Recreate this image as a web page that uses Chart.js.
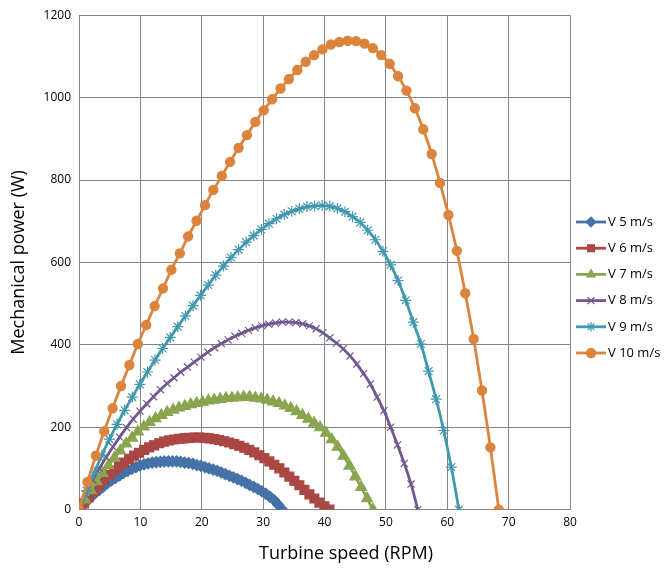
<!DOCTYPE html>
<html>
<head>
    <title>Mechanical power vs turbine speed</title>
    <script src="https://cdn.jsdelivr.net/npm/chart.js"></script>
    <style>
        body { margin: 0; background: #fff; }
        #wrap { width: 665px; height: 572px; }
    </style>
</head>
<body>
    <div id="wrap"><canvas id="powerChart"></canvas></div>

    <script>
        // Series names and colours
        const seriesNames = ['V 5 m/s', 'V 6 m/s', 'V 7 m/s', 'V 8 m/s', 'V 9 m/s', 'V 10 m/s'];
        const seriesColors = ['#4572A7', '#AA4643', '#89A54E', '#71588F', '#4198AF', '#DB843D'];
        const markerStyles = ['rectRot', 'rect', 'triangle', 'crossRot', 'star', 'circle'];
        const markerSizes = [5.5, 6.3, 6.3, 5, 5.5, 4.6];

        // Turbine speed (RPM) of each point
        const speedV5 = [0, 0.66, 1.32, 1.99, 2.65, 3.31, 3.97, 4.63, 5.30, 5.96, 6.62, 7.28, 7.94, 8.61, 9.27, 9.93, 10.59, 11.25, 11.92, 12.58, 13.24, 13.90, 14.56, 15.23, 15.89, 16.55, 17.21, 17.87, 18.54, 19.20, 19.86, 20.52, 21.18, 21.85, 22.51, 23.17, 23.83, 24.49, 25.16, 25.82, 26.48, 27.14, 27.80, 28.47, 29.13, 29.79, 30.45, 31.11, 31.78, 32.44, 33.10];
        const speedV6 = [0, 0.82, 1.63, 2.45, 3.26, 4.08, 4.90, 5.71, 6.53, 7.34, 8.16, 8.98, 9.79, 10.61, 11.42, 12.24, 13.06, 13.87, 14.69, 15.50, 16.32, 17.14, 17.95, 18.77, 19.58, 20.40, 21.22, 22.03, 22.85, 23.66, 24.48, 25.30, 26.11, 26.93, 27.74, 28.56, 29.38, 30.19, 31.01, 31.82, 32.64, 33.46, 34.27, 35.09, 35.90, 36.72, 37.54, 38.35, 39.17, 39.98, 40.80];
        const speedV7 = [0, 0.96, 1.92, 2.87, 3.83, 4.79, 5.75, 6.71, 7.66, 8.62, 9.58, 10.54, 11.50, 12.45, 13.41, 14.37, 15.33, 16.29, 17.24, 18.20, 19.16, 20.12, 21.08, 22.03, 22.99, 23.95, 24.91, 25.87, 26.82, 27.78, 28.74, 29.70, 30.66, 31.61, 32.57, 33.53, 34.49, 35.45, 36.40, 37.36, 38.32, 39.28, 40.24, 41.19, 42.15, 43.11, 44.07, 45.02, 45.98, 46.94, 47.90];
        const speedV8 = [0, 1.10, 2.21, 3.31, 4.42, 5.52, 6.62, 7.73, 8.83, 9.94, 11.04, 12.14, 13.25, 14.35, 15.46, 16.56, 17.66, 18.77, 19.87, 20.98, 22.08, 23.18, 24.29, 25.39, 26.50, 27.60, 28.70, 29.81, 30.91, 32.02, 33.12, 34.22, 35.33, 36.43, 37.54, 38.64, 39.74, 40.85, 41.95, 43.06, 44.16, 45.26, 46.37, 47.47, 48.58, 49.68, 50.78, 51.89, 52.99, 54.10, 55.20];
        const speedV9 = [0, 1.24, 2.48, 3.71, 4.95, 6.19, 7.43, 8.67, 9.90, 11.14, 12.38, 13.62, 14.86, 16.09, 17.33, 18.57, 19.81, 21.05, 22.28, 23.52, 24.76, 26.00, 27.24, 28.47, 29.71, 30.95, 32.19, 33.43, 34.66, 35.90, 37.14, 38.38, 39.62, 40.85, 42.09, 43.33, 44.57, 45.81, 47.04, 48.28, 49.52, 50.76, 51.99, 53.23, 54.47, 55.71, 56.95, 58.19, 59.42, 60.66, 61.90];
        const speedV10 = [0, 1.37, 2.74, 4.10, 5.47, 6.84, 8.21, 9.58, 10.94, 12.31, 13.68, 15.05, 16.42, 17.78, 19.15, 20.52, 21.89, 23.26, 24.62, 25.99, 27.36, 28.73, 30.10, 31.46, 32.83, 34.20, 35.57, 36.94, 38.30, 39.67, 41.04, 42.41, 43.78, 45.14, 46.51, 47.88, 49.25, 50.62, 51.98, 53.35, 54.72, 56.09, 57.46, 58.82, 60.19, 61.56, 62.93, 64.30, 65.66, 67.03, 68.40];

        // Mechanical power (W) at each of those speeds
        const powerV5 = [0, 11, 21, 31, 40, 48, 56, 64, 71, 77, 83, 89, 94, 99, 103, 107, 110, 112, 114, 115, 116, 117, 117, 117, 117, 116, 114, 113, 111, 108, 106, 103, 100, 97, 94, 90, 86, 82, 78, 74, 70, 65, 60, 55, 50, 44, 38, 31, 23, 12, 0];
        const powerV6 = [0, 15, 30, 45, 59, 72, 84, 95, 105, 114, 123, 131, 138, 145, 151, 156, 161, 165, 168, 170, 172, 173, 174, 175, 175, 174, 173, 171, 169, 166, 163, 159, 155, 150, 145, 139, 132, 125, 117, 109, 100, 90, 80, 70, 59, 48, 37, 27, 17, 8, 0];
        const powerV7 = [0, 24, 47, 68, 88, 107, 125, 143, 160, 174, 189, 201, 212, 221, 229, 236, 242, 247, 251, 255, 258, 261, 264, 266, 268, 270, 271, 272, 273, 273, 271, 269, 266, 262, 258, 252, 246, 238, 229, 220, 210, 199, 186, 170, 152, 130, 106, 80, 54, 27, 0];
        const powerV8 = [0, 37, 72, 100, 127, 152, 176, 199, 220, 239, 257, 274, 291, 306, 320, 334, 346, 358, 370, 382, 393, 403, 412, 421, 428, 435, 441, 446, 450, 453, 455, 455, 454, 451, 446, 439, 429, 417, 404, 390, 373, 353, 330, 305, 273, 240, 200, 157, 112, 62, 0];
        const powerV9 = [0, 46, 90, 132, 171, 207, 241, 273, 304, 334, 363, 391, 418, 444, 470, 495, 520, 545, 569, 591, 612, 631, 649, 665, 680, 694, 706, 716, 724, 730, 735, 737, 738, 736, 731, 723, 711, 697, 678, 655, 627, 594, 556, 508, 455, 402, 336, 268, 192, 103, 0];
        const powerV10 = [0, 67, 131, 190, 246, 300, 351, 402, 448, 494, 537, 582, 622, 663, 701, 739, 776, 810, 844, 878, 909, 941, 969, 996, 1022, 1045, 1067, 1087, 1103, 1117, 1129, 1135, 1138, 1137, 1131, 1120, 1103, 1082, 1052, 1017, 974, 923, 863, 793, 715, 628, 525, 414, 289, 151, 0];

        const speeds = [speedV5, speedV6, speedV7, speedV8, speedV9, speedV10];
        const powers = [powerV5, powerV6, powerV7, powerV8, powerV9, powerV10];

        // Axis ticks
        const xTicks = [0, 10, 20, 30, 40, 50, 60, 70, 80];
        const yTicks = [0, 200, 400, 600, 800, 1000, 1200];
        const xTitle = 'Turbine speed (RPM)';

        const fontFamily = "'Open Sans', 'Noto Sans', sans-serif";

        const datasets = seriesNames.map((name, i) => ({
            label: name,
            data: speeds[i].map((s, k) => ({ x: s, y: powers[i][k] })),
            borderColor: seriesColors[i],
            backgroundColor: seriesColors[i],
            borderWidth: 2.8,
            pointStyle: markerStyles[i],
            pointRadius: markerSizes[i],
            pointBorderWidth: 1.2,
            pointBackgroundColor: seriesColors[i],
            pointBorderColor: seriesColors[i],
            cubicInterpolationMode: 'monotone',
            order: seriesNames.length - i
        }));

        // Legend on the right (line + marker + name) and the x title, which sits
        // a bit right of the plot centre in the original
        const sideLegend = {
            id: 'sideLegend',
            afterDraw(chart) {
                const ctx = chart.ctx;
                const x0 = chart.chartArea.right + 6;
                const y0 = 222;
                const gap = 26.2;
                ctx.save();
                chart.data.datasets.forEach((ds, i) => {
                    const y = y0 + i * gap;
                    ctx.strokeStyle = ds.borderColor;
                    ctx.lineWidth = 2.8;
                    ctx.beginPath();
                    ctx.moveTo(x0, y);
                    ctx.lineTo(x0 + 30, y);
                    ctx.stroke();
                    ctx.fillStyle = ds.pointBackgroundColor;
                    ctx.strokeStyle = ds.pointBorderColor;
                    ctx.lineWidth = ds.pointBorderWidth;
                    Chart.helpers.drawPoint(ctx, {
                        pointStyle: ds.pointStyle,
                        radius: Math.min(ds.pointRadius, 4.8),
                        rotation: 0,
                        borderWidth: ds.pointBorderWidth
                    }, x0 + 15, y);
                    ctx.fillStyle = '#000';
                    ctx.font = '13px ' + fontFamily;
                    ctx.textBaseline = 'middle';
                    ctx.textAlign = 'left';
                    ctx.fillText(ds.label, x0 + 32, y);
                });
                ctx.fillStyle = '#000';
                ctx.font = '18px ' + fontFamily;
                ctx.textAlign = 'center';
                ctx.textBaseline = 'middle';
                ctx.fillText(xTitle, 346, chart.chartArea.bottom + 44);
                ctx.restore();
            }
        };

        new Chart(document.getElementById('powerChart').getContext('2d'), {
            type: 'line',
            data: { datasets: datasets },
            options: {
                responsive: true,
                maintainAspectRatio: false,
                devicePixelRatio: 1,
                animation: false,
                layout: { padding: { left: 8, right: 95, top: 0, bottom: 36 } },
                plugins: {
                    legend: { display: false },
                    tooltip: { enabled: false }
                },
                scales: {
                    x: {
                        type: 'linear',
                        min: 0,
                        max: 80,
                        afterBuildTicks: axis => { axis.ticks = xTicks.map(v => ({ value: v })); },
                        ticks: { color: '#000', font: { family: fontFamily, size: 12 }, padding: 6, callback: v => String(v) },
                        grid: { color: '#868686', lineWidth: 1, drawTicks: false },
                        border: { color: '#868686' }
                    },
                    y: {
                        min: 0,
                        max: 1200,
                        afterBuildTicks: axis => { axis.ticks = yTicks.map(v => ({ value: v })); },
                        ticks: { color: '#000', font: { family: fontFamily, size: 12 }, padding: 8, callback: v => String(v) },
                        grid: { color: '#868686', lineWidth: 1, drawTicks: false },
                        border: { color: '#868686' },
                        title: {
                            display: true,
                            text: 'Mechanical power (W)',
                            color: '#000',
                            font: { family: fontFamily, size: 18 },
                            padding: { top: 0, bottom: 6 }
                        }
                    }
                }
            },
            plugins: [sideLegend]
        });
    </script>
</body>
</html>
